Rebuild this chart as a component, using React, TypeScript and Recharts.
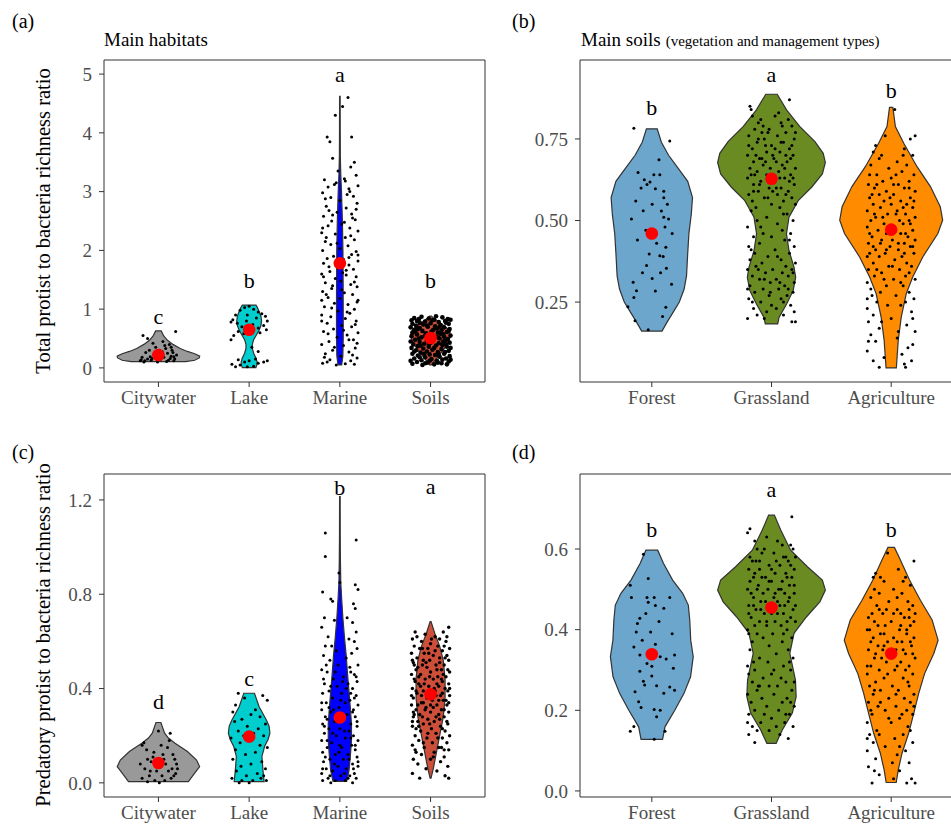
import React from 'react';
import { ScatterChart, Scatter, XAxis, YAxis, ReferenceArea } from 'recharts';

type Pair = [number, number];

const SERIF = "'Liberation Serif', 'DejaVu Serif', serif";

// categories
const habitats = ['Citywater', 'Lake', 'Marine', 'Soils'];
const soilTypes = ['Forest', 'Grassland', 'Agriculture'];

const habitatColors = ['#999999', '#00CDCD', '#0000FF', '#CD4F39'];
const soilColors = ['#6CA6CD', '#698B22', '#FF8C00'];

// violin outlines: [value, half width in category units]
const cityA: Pair[] = [[0.107, 0.3], [0.13, 0.4], [0.17, 0.45], [0.2, 0.455], [0.24, 0.4], [0.28, 0.32], [0.33, 0.24], [0.4, 0.16], [0.47, 0.1], [0.54, 0.06], [0.6, 0.04], [0.63, 0.03]];
const lakeA: Pair[] = [[0.005, 0.075], [0.05, 0.085], [0.1, 0.088], [0.17, 0.075], [0.25, 0.05], [0.33, 0.035], [0.4, 0.035], [0.48, 0.05], [0.56, 0.08], [0.64, 0.11], [0.72, 0.13], [0.8, 0.137], [0.88, 0.13], [0.96, 0.11], [1.03, 0.09], [1.07, 0.075]];
const marineA: Pair[] = [[0.05, 0.02], [0.2, 0.033], [0.5, 0.037], [1.0, 0.037], [1.5, 0.036], [2.0, 0.034], [2.5, 0.028], [3.0, 0.018], [3.3, 0.01], [3.6, 0.005], [4.0, 0.004], [4.62, 0.003]];
const soilsA: Pair[] = [[0.05, 0.01], [0.15, 0.06], [0.3, 0.14], [0.45, 0.2], [0.55, 0.22], [0.65, 0.2], [0.75, 0.12], [0.85, 0.03], [0.88, 0.01]];

const forestB: Pair[] = [[0.161, 0.085], [0.19, 0.13], [0.22, 0.18], [0.25, 0.23], [0.29, 0.27], [0.33, 0.29], [0.4, 0.3], [0.46, 0.31], [0.52, 0.33], [0.57, 0.34], [0.62, 0.3], [0.665, 0.21], [0.7, 0.14], [0.74, 0.08], [0.781, 0.045]];
const grassB: Pair[] = [[0.183, 0.052], [0.203, 0.063], [0.244, 0.126], [0.285, 0.181], [0.326, 0.202], [0.357, 0.188], [0.408, 0.146], [0.459, 0.125], [0.51, 0.146], [0.561, 0.223], [0.602, 0.335], [0.643, 0.425], [0.678, 0.45], [0.706, 0.432], [0.742, 0.363], [0.788, 0.237], [0.839, 0.126], [0.887, 0.048]];
const agriB: Pair[] = [[0.048, 0.043], [0.133, 0.059], [0.204, 0.084], [0.276, 0.126], [0.327, 0.18], [0.389, 0.265], [0.46, 0.39], [0.501, 0.43], [0.542, 0.41], [0.604, 0.328], [0.665, 0.216], [0.737, 0.105], [0.788, 0.035], [0.847, 0.014]];

const cityC: Pair[] = [[0.0055, 0.33], [0.034, 0.385], [0.069, 0.454], [0.097, 0.42], [0.133, 0.32], [0.168, 0.183], [0.19, 0.11], [0.211, 0.068], [0.256, 0.027]];
const lakeC: Pair[] = [[0.0055, 0.165], [0.055, 0.152], [0.112, 0.141], [0.154, 0.17], [0.185, 0.21], [0.211, 0.229], [0.24, 0.22], [0.267, 0.19], [0.323, 0.11], [0.38, 0.059]];
const marineC: Pair[] = [[0.006, 0.075], [0.05, 0.1], [0.11, 0.115], [0.18, 0.128], [0.25, 0.128], [0.32, 0.115], [0.39, 0.1], [0.46, 0.085], [0.54, 0.07], [0.62, 0.05], [0.7, 0.033], [0.78, 0.02], [0.85, 0.01], [0.95, 0.006], [1.05, 0.004], [1.214, 0.003]];
const soilsC: Pair[] = [[0.02, 0.005], [0.06, 0.03], [0.12, 0.06], [0.2, 0.1], [0.28, 0.14], [0.36, 0.16], [0.44, 0.16], [0.52, 0.14], [0.58, 0.1], [0.63, 0.05], [0.66, 0.025], [0.684, 0.005]];

const forestD: Pair[] = [[0.128, 0.09], [0.159, 0.11], [0.2, 0.192], [0.242, 0.269], [0.283, 0.324], [0.333, 0.346], [0.374, 0.325], [0.424, 0.317], [0.461, 0.305], [0.49, 0.258], [0.523, 0.174], [0.564, 0.098], [0.597, 0.049]];
const grassD: Pair[] = [[0.118, 0.039], [0.151, 0.09], [0.193, 0.174], [0.234, 0.206], [0.275, 0.2], [0.341, 0.153], [0.391, 0.188], [0.432, 0.293], [0.469, 0.404], [0.498, 0.45], [0.523, 0.425], [0.556, 0.3], [0.597, 0.16], [0.647, 0.077], [0.684, 0.024]];
const agriD: Pair[] = [[0.021, 0.042], [0.052, 0.059], [0.093, 0.09], [0.143, 0.146], [0.192, 0.188], [0.242, 0.23], [0.291, 0.279], [0.341, 0.356], [0.374, 0.392], [0.424, 0.342], [0.473, 0.244], [0.523, 0.153], [0.573, 0.077], [0.604, 0.027]];

// jittered samples: [x offset from category, value]
const cityAPts: Pair[] = [[-0.15, 0.12], [-0.12, 0.15], [-0.18, 0.18], [-0.08, 0.13], [-0.05, 0.22], [0.02, 0.14], [0.06, 0.18], [0.1, 0.25], [0.14, 0.2], [0.17, 0.12], [-0.1, 0.3], [-0.03, 0.35], [0.08, 0.33], [0.12, 0.4], [0.18, 0.15], [-0.19, 0.14], [-0.14, 0.26], [0.04, 0.28], [0.15, 0.3], [0.2, 0.22], [-0.06, 0.42], [0.05, 0.45], [-0.12, 0.5], [-0.17, 0.55], [0.19, 0.62], [-0.01, 0.1], [0.09, 0.11], [0.13, 0.16], [-0.09, 0.19], [0.16, 0.26], [0.03, 0.2], [-0.16, 0.1], [0.11, 0.13], [-0.02, 0.27], [0.07, 0.38], [0.14, 0.35], [-0.2, 0.12], [0.01, 0.3], [0.17, 0.19], [-0.07, 0.16]];
const lakeAPts: Pair[] = [[-0.18, 0.82], [-0.2, 0.78], [-0.15, 0.9], [-0.1, 0.98], [-0.05, 1.03], [0.0, 1.05], [0.05, 1.0], [0.1, 0.95], [0.14, 0.92], [0.18, 0.88], [0.2, 0.8], [0.16, 0.72], [0.1, 0.68], [0.04, 0.74], [-0.03, 0.8], [-0.08, 0.7], [-0.12, 0.62], [-0.06, 0.58], [0.02, 0.62], [0.12, 0.6], [0.08, 0.85], [-0.02, 0.9], [-0.13, 0.76], [0.19, 0.65], [-0.17, 0.55], [-0.2, 0.48], [0.1, 0.28], [0.03, 0.35], [-0.19, 0.06], [-0.15, 0.02], [-0.1, 0.05], [-0.05, 0.1], [0.0, 0.12], [0.05, 0.03], [0.1, 0.08], [0.16, 0.1], [0.2, 0.12], [-0.02, 0.02], [0.07, 0.15], [-0.12, 0.14]];
const marineAPts: Pair[] = [[0.09, 4.6], [0.03, 4.45], [-0.05, 4.3], [0.13, 3.93], [-0.14, 3.93], [-0.11, 3.85], [-0.08, 3.57], [0.16, 3.5], [0.12, 3.42], [-0.02, 3.35], [0.18, 3.28], [-0.17, 3.2], [0.05, 3.22], [-0.06, 3.12], [0.2, 3.1], [0.1, 3.05], [-0.19, 2.98], [0.15, 2.92], [-0.1, 2.9], [0.0, 2.85], [0.19, 2.8], [-0.15, 2.75], [0.07, 2.72], [-0.03, 2.65], [0.13, 2.62], [-0.18, 2.58], [0.17, 2.52], [-0.09, 2.5], [0.02, 2.45], [-0.13, 2.42], [0.11, 2.38], [0.2, 2.33], [-0.2, 2.3], [-0.05, 2.28], [0.06, 2.22], [0.16, 2.18], [-0.16, 2.15], [-0.1, 2.1], [0.09, 2.08], [0.0, 2.03], [-0.19, 2.0], [0.18, 1.98], [0.13, 1.93], [-0.07, 1.9], [-0.14, 1.86], [0.04, 1.85], [0.2, 1.82], [-0.18, 1.78], [0.1, 1.75], [-0.02, 1.7], [0.15, 1.68], [-0.11, 1.64], [-0.2, 1.6], [0.07, 1.58], [0.18, 1.55], [-0.05, 1.52], [0.01, 1.48], [-0.16, 1.45], [0.12, 1.42], [0.19, 1.38], [-0.09, 1.35], [-0.19, 1.3], [0.05, 1.28], [0.14, 1.25], [-0.13, 1.2], [0.0, 1.18], [0.2, 1.15], [-0.06, 1.1], [0.09, 1.08], [-0.17, 1.04], [0.16, 1.0], [-0.02, 0.97], [0.11, 0.93], [-0.2, 0.9], [-0.1, 0.87], [0.06, 0.84], [0.18, 0.8], [-0.14, 0.76], [0.02, 0.72], [0.13, 0.7], [-0.07, 0.66], [-0.18, 0.62], [0.2, 0.6], [0.08, 0.56], [-0.03, 0.52], [0.15, 0.48], [-0.12, 0.45], [-0.2, 0.4], [0.04, 0.38], [0.17, 0.34], [-0.08, 0.3], [0.1, 0.27], [-0.16, 0.24], [0.01, 0.2], [0.19, 0.17], [-0.11, 0.14], [0.12, 0.12], [-0.19, 0.08], [0.06, 0.07], [-0.04, 0.05], [0.16, 0.06], [-0.14, 0.1], [0.14, 2.55], [-0.12, 2.68], [0.08, 2.95], [-0.04, 3.15], [0.03, 1.62], [-0.08, 1.4], [0.1, 1.88], [-0.15, 2.22],
  [-0.17, 0.18], [0.14, 0.22], [-0.06, 0.35], [0.19, 0.42], [-0.13, 0.58], [0.04, 0.64], [0.17, 0.74], [-0.2, 0.8], [0.08, 0.95], [-0.09, 1.02], [0.19, 1.12], [-0.15, 1.25], [0.02, 1.33], [0.16, 1.46], [-0.18, 1.55], [0.07, 1.66], [-0.12, 1.72], [0.2, 1.92], [-0.03, 2.12], [0.12, 2.25], [-0.19, 2.38], [0.05, 2.48], [-0.08, 2.6], [0.18, 2.7], [-0.16, 2.88], [0.11, 3.0], [-0.13, 3.08], [0.06, 3.18], [-0.2, 1.15], [0.1, 0.48]];
const soilsAPts: Pair[] = [[-0.18, 0.85], [-0.1, 0.87], [-0.02, 0.84], [0.06, 0.88], [0.13, 0.86], [0.19, 0.83], [-0.21, 0.81], [-0.15, 0.8], [-0.06, 0.79], [0.02, 0.81], [0.09, 0.78], [0.16, 0.8], [0.22, 0.82], [-0.12, 0.77], [-0.2, 0.75], [-0.08, 0.74], [0.0, 0.76], [0.11, 0.73], [0.2, 0.75], [-0.16, 0.72], [0.05, 0.71], [-0.22, 0.69], [-0.12, 0.68], [-0.03, 0.7], [0.07, 0.67], [0.15, 0.69], [0.21, 0.66], [-0.18, 0.65], [-0.09, 0.63], [0.01, 0.62], [0.12, 0.64], [0.18, 0.61], [-0.2, 0.6], [-0.05, 0.59], [0.08, 0.6], [-0.15, 0.57], [-0.01, 0.56], [0.14, 0.57], [0.22, 0.55], [-0.21, 0.54], [0.05, 0.53], [-0.1, 0.52], [0.1, 0.5], [0.19, 0.49], [-0.17, 0.48], [-0.04, 0.47], [0.03, 0.49], [0.16, 0.46], [-0.22, 0.45], [-0.12, 0.44], [0.0, 0.43], [0.09, 0.42], [0.21, 0.43], [-0.07, 0.41], [-0.19, 0.4], [0.13, 0.39], [-0.14, 0.37], [-0.02, 0.36], [0.06, 0.38], [0.18, 0.36], [0.22, 0.34], [-0.21, 0.34], [-0.08, 0.33], [0.02, 0.31], [0.12, 0.32], [-0.16, 0.3], [0.2, 0.29], [-0.04, 0.28], [0.08, 0.27], [-0.11, 0.26], [-0.2, 0.24], [0.15, 0.24], [-0.01, 0.23], [0.05, 0.22], [-0.14, 0.21], [0.21, 0.2], [0.1, 0.19], [-0.06, 0.18], [-0.18, 0.16], [0.01, 0.15], [0.17, 0.16], [-0.1, 0.13], [0.07, 0.12], [0.2, 0.11], [-0.15, 0.1], [-0.03, 0.09], [0.12, 0.08], [-0.2, 0.07], [0.04, 0.06], [0.18, 0.06], [-0.09, 0.05], [-0.13, 0.83], [0.04, 0.82], [0.17, 0.77], [-0.04, 0.72], [0.1, 0.7], [-0.14, 0.66], [0.03, 0.65], [0.2, 0.63], [-0.17, 0.62], [0.11, 0.58], [-0.06, 0.55], [0.08, 0.52], [-0.13, 0.5], [0.14, 0.45], [-0.02, 0.4], [0.17, 0.4], [-0.11, 0.38], [0.04, 0.34], [-0.18, 0.28], [0.16, 0.27], [-0.07, 0.24], [0.09, 0.23], [-0.12, 0.18], [0.13, 0.14], [-0.01, 0.12], [0.22, 0.14], [-0.22, 0.12], [0.08, 0.09], [-0.06, 0.08], [0.15, 0.53]];

const forestBPts: Pair[] = [[-0.15, 0.783], [0.15, 0.744], [0.06, 0.686], [-0.115, 0.647], [0.017, 0.64], [0.067, 0.64], [-0.063, 0.625], [-0.015, 0.618], [-0.04, 0.61], [0.03, 0.597], [0.1, 0.59], [-0.134, 0.56], [0.1, 0.57], [0.003, 0.55], [-0.072, 0.53], [0.08, 0.529], [-0.17, 0.505], [0.1, 0.51], [0.14, 0.505], [-0.12, 0.44], [0.11, 0.48], [0.17, 0.46], [0.117, 0.418], [-0.022, 0.397], [0.067, 0.392], [0.095, 0.39], [-0.044, 0.362], [0.122, 0.354], [-0.156, 0.311], [-0.128, 0.285], [-0.078, 0.34], [0.003, 0.322], [0.073, 0.34], [0.165, 0.305], [0.03, 0.284], [-0.15, 0.264], [-0.2, 0.236], [-0.14, 0.193], [0.09, 0.206], [0.117, 0.234], [-0.03, 0.165], [-0.05, 0.47], [0.04, 0.43], [0.13, 0.55], [-0.09, 0.6]];
const grassBPts: Pair[] = [[-0.18, 0.85], [-0.17, 0.84], [0.15, 0.87], [0.03, 0.82], [-0.09, 0.81], [0.08, 0.8], [0.17, 0.79], [-0.14, 0.78], [-0.02, 0.78], [0.12, 0.77], [-0.19, 0.76], [0.05, 0.76], [-0.06, 0.75], [0.19, 0.75], [-0.12, 0.74], [0.1, 0.74], [0.0, 0.73], [-0.16, 0.72], [0.15, 0.72], [-0.04, 0.71], [0.07, 0.71], [-0.2, 0.7], [0.18, 0.7], [-0.1, 0.69], [0.02, 0.69], [0.13, 0.68], [-0.15, 0.68], [-0.07, 0.67], [0.09, 0.67], [0.2, 0.66], [-0.18, 0.66], [-0.01, 0.66], [0.06, 0.65], [-0.12, 0.65], [0.16, 0.64], [-0.04, 0.64], [0.11, 0.63], [-0.2, 0.63], [0.03, 0.62], [-0.09, 0.62], [0.19, 0.61], [-0.15, 0.61], [0.08, 0.6], [-0.02, 0.6], [0.14, 0.59], [-0.11, 0.59], [-0.19, 0.58], [0.05, 0.58], [0.17, 0.57], [-0.06, 0.57], [0.1, 0.56], [-0.16, 0.56], [0.0, 0.55], [0.2, 0.55], [-0.13, 0.54], [0.07, 0.54], [-0.08, 0.69], [0.12, 0.7], [-0.05, 0.73], [0.04, 0.68], [-0.14, 0.64], [0.15, 0.62], [-0.03, 0.77], [0.09, 0.79], [-0.11, 0.8], [0.01, 0.59], [-0.17, 0.53], [0.13, 0.52], [-0.04, 0.51], [0.18, 0.5], [-0.12, 0.5], [0.05, 0.49], [-0.2, 0.48], [0.09, 0.47], [-0.07, 0.46], [0.16, 0.46], [0.0, 0.45], [-0.15, 0.45], [0.11, 0.44], [-0.1, 0.43], [0.19, 0.42], [-0.19, 0.42], [0.03, 0.41], [-0.14, 0.4], [0.15, 0.4], [-0.03, 0.39], [0.08, 0.38], [-0.18, 0.38], [0.2, 0.37], [-0.08, 0.37], [0.12, 0.36], [-0.13, 0.36], [0.01, 0.35], [0.17, 0.35], [-0.2, 0.35], [-0.05, 0.34], [0.09, 0.34], [-0.16, 0.33], [0.14, 0.33], [0.04, 0.32], [-0.1, 0.32], [0.19, 0.31], [-0.01, 0.31], [-0.18, 0.3], [0.11, 0.3], [-0.07, 0.29], [0.06, 0.29], [0.18, 0.28], [-0.14, 0.28], [-0.02, 0.27], [0.13, 0.27], [-0.19, 0.26], [0.08, 0.26], [-0.09, 0.25], [0.16, 0.24], [0.0, 0.24], [-0.15, 0.23], [0.19, 0.22], [-0.04, 0.22], [0.1, 0.21], [-0.2, 0.2], [0.17, 0.19], [0.2, 0.19], [-0.06, 0.2],
  [-0.16, 0.82], [0.06, 0.83], [0.14, 0.81], [-0.08, 0.77], [0.2, 0.77], [-0.19, 0.73], [0.03, 0.72], [0.16, 0.69], [-0.13, 0.7], [0.01, 0.7], [-0.05, 0.68], [0.11, 0.66], [-0.17, 0.64], [0.07, 0.63], [-0.1, 0.61], [0.18, 0.63], [0.04, 0.6], [-0.15, 0.59], [0.12, 0.58], [-0.03, 0.57], [0.08, 0.74], [-0.11, 0.75], [0.17, 0.73], [-0.07, 0.79], [0.1, 0.52], [-0.09, 0.48], [0.15, 0.44], [-0.17, 0.41], [0.05, 0.39], [-0.11, 0.35], [0.18, 0.34], [-0.06, 0.32], [0.07, 0.31], [-0.2, 0.29], [0.14, 0.29], [-0.01, 0.28], [0.1, 0.25], [-0.16, 0.25], [0.04, 0.23], [-0.12, 0.21]];
const agriBPts: Pair[] = [[0.03, 0.84], [-0.13, 0.73], [0.2, 0.76], [0.16, 0.75], [-0.05, 0.76], [0.11, 0.72], [-0.15, 0.71], [0.18, 0.7], [-0.1, 0.69], [0.05, 0.68], [-0.17, 0.67], [0.13, 0.67], [-0.02, 0.66], [0.09, 0.65], [-0.12, 0.64], [0.19, 0.64], [0.0, 0.63], [-0.07, 0.62], [0.15, 0.62], [-0.19, 0.61], [0.06, 0.61], [-0.14, 0.6], [0.11, 0.6], [-0.04, 0.59], [0.2, 0.59], [0.02, 0.58], [-0.1, 0.58], [0.16, 0.57], [-0.18, 0.57], [0.08, 0.56], [-0.06, 0.56], [0.13, 0.55], [-0.15, 0.55], [0.0, 0.55], [0.18, 0.54], [-0.09, 0.54], [0.05, 0.53], [-0.2, 0.53], [0.12, 0.52], [-0.03, 0.52], [0.2, 0.51], [-0.13, 0.51], [0.07, 0.5], [-0.17, 0.5], [0.15, 0.5], [-0.06, 0.49], [0.1, 0.49], [-0.2, 0.48], [0.02, 0.48], [0.18, 0.47], [-0.11, 0.47], [0.08, 0.46], [-0.04, 0.46], [0.14, 0.45], [-0.16, 0.45], [0.01, 0.44], [0.2, 0.44], [-0.08, 0.44], [0.11, 0.43], [-0.19, 0.43], [-0.01, 0.42], [0.16, 0.42], [-0.13, 0.41], [0.06, 0.41], [-0.05, 0.4], [0.19, 0.4], [-0.18, 0.4], [0.09, 0.39], [-0.1, 0.39], [0.03, 0.38], [0.13, 0.37], [-0.15, 0.37], [-0.02, 0.36], [0.17, 0.36], [-0.19, 0.35], [0.07, 0.35], [-0.08, 0.34], [0.12, 0.33], [-0.14, 0.33], [0.02, 0.32], [0.2, 0.32], [-0.2, 0.31], [-0.04, 0.3], [0.1, 0.3], [-0.17, 0.29], [0.15, 0.28], [-0.09, 0.28], [0.04, 0.27], [-0.2, 0.26], [0.19, 0.26], [-0.12, 0.25], [0.08, 0.24], [-0.2, 0.23], [0.17, 0.22], [-0.15, 0.21], [0.0, 0.2], [-0.19, 0.19], [0.13, 0.18], [-0.1, 0.17], [0.2, 0.16], [-0.17, 0.15], [0.05, 0.14], [-0.13, 0.13], [0.18, 0.12], [-0.2, 0.1], [0.09, 0.09], [-0.15, 0.07], [0.17, 0.07], [-0.1, 0.05], [0.12, 0.05],
  [-0.08, 0.7], [0.1, 0.7], [-0.18, 0.64], [0.04, 0.64], [0.15, 0.6], [-0.12, 0.61], [0.02, 0.61], [-0.16, 0.58], [0.19, 0.56], [-0.01, 0.57], [0.1, 0.54], [-0.14, 0.52], [0.04, 0.52], [-0.07, 0.51], [0.16, 0.49], [-0.18, 0.46], [0.0, 0.46], [0.12, 0.46], [-0.09, 0.43], [0.06, 0.43], [0.18, 0.42], [-0.15, 0.42], [-0.04, 0.41], [0.11, 0.4], [-0.2, 0.39], [0.01, 0.36], [-0.12, 0.35], [0.15, 0.34], [-0.06, 0.32], [0.08, 0.31], [-0.16, 0.27], [0.12, 0.25], [-0.03, 0.24], [0.18, 0.2], [-0.08, 0.19], [0.06, 0.16], [-0.19, 0.13], [0.14, 0.11], [-0.06, 0.08], [0.11, 0.06]];

const cityCPts: Pair[] = [[-0.16, 0.17], [-0.18, 0.16], [0.13, 0.21], [0.0, 0.22], [0.1, 0.15], [-0.05, 0.13], [0.05, 0.12], [-0.12, 0.1], [0.18, 0.1], [0.2, 0.08], [-0.2, 0.08], [-0.08, 0.09], [0.08, 0.08], [0.15, 0.06], [-0.15, 0.06], [-0.02, 0.05], [0.11, 0.05], [0.19, 0.04], [-0.1, 0.03], [0.04, 0.03], [-0.18, 0.02], [0.14, 0.02], [-0.04, 0.01], [0.07, 0.01], [-0.12, 0.005], [0.01, 0.0], [-0.06, 0.11], [0.16, 0.12], [-0.13, 0.14], [0.03, 0.16], [0.12, 0.18], [-0.09, 0.05], [0.21, 0.06], [0.06, 0.1], [-0.01, 0.07], [0.17, 0.03]];
const lakeCPts: Pair[] = [[-0.12, 0.38], [0.15, 0.37], [-0.05, 0.36], [0.2, 0.35], [-0.15, 0.33], [0.07, 0.31], [-0.18, 0.3], [0.02, 0.29], [0.12, 0.28], [-0.08, 0.27], [-0.16, 0.26], [0.18, 0.25], [-0.02, 0.24], [0.1, 0.23], [-0.12, 0.22], [0.05, 0.21], [-0.06, 0.2], [0.16, 0.2], [-0.2, 0.19], [0.0, 0.18], [-0.1, 0.17], [0.12, 0.16], [0.2, 0.15], [-0.15, 0.14], [0.07, 0.13], [-0.04, 0.12], [-0.18, 0.1], [0.14, 0.09], [0.02, 0.08], [-0.09, 0.07], [0.18, 0.06], [-0.14, 0.05], [0.09, 0.04], [-0.03, 0.03], [0.13, 0.02], [-0.19, 0.02], [0.04, 0.01], [-0.08, 0.01], [0.19, 0.01], [0.16, 0.03], [-0.11, 0.0], [0.0, 0.0]];
const marineCPts: Pair[] = [[-0.16, 1.06], [0.18, 1.03], [-0.16, 0.96], [-0.01, 0.89], [0.0, 0.85], [0.17, 0.84], [0.2, 0.82], [-0.19, 0.81], [-0.1, 0.78], [-0.08, 0.77], [0.15, 0.76], [0.17, 0.74], [-0.17, 0.7], [-0.06, 0.69], [0.14, 0.68], [-0.2, 0.66], [0.18, 0.64], [-0.13, 0.62], [0.1, 0.61], [0.16, 0.6], [-0.16, 0.58], [0.19, 0.57], [-0.04, 0.56], [0.13, 0.55], [-0.18, 0.54], [0.07, 0.53], [-0.11, 0.52], [0.2, 0.5], [-0.02, 0.5], [0.11, 0.49], [-0.2, 0.48], [-0.14, 0.47], [0.16, 0.46], [0.04, 0.45], [-0.07, 0.44], [0.19, 0.43], [-0.17, 0.42], [0.09, 0.42], [-0.03, 0.41], [0.14, 0.4], [-0.12, 0.39], [-0.19, 0.38], [0.02, 0.38], [0.18, 0.37], [-0.08, 0.36], [0.11, 0.35], [-0.15, 0.34], [0.06, 0.34], [0.2, 0.33], [-0.01, 0.32], [-0.2, 0.31], [0.15, 0.31], [-0.1, 0.3], [0.08, 0.29], [-0.16, 0.28], [0.17, 0.28], [0.03, 0.27], [-0.06, 0.26], [0.12, 0.25], [-0.19, 0.25], [0.19, 0.24], [-0.12, 0.23], [0.0, 0.23], [0.1, 0.22], [-0.17, 0.21], [0.15, 0.2], [-0.04, 0.2], [0.06, 0.19], [-0.2, 0.18], [0.2, 0.18], [-0.09, 0.17], [0.13, 0.16], [-0.14, 0.15], [0.02, 0.15], [0.17, 0.14], [-0.19, 0.13], [-0.05, 0.12], [0.09, 0.12], [0.19, 0.11], [-0.11, 0.1], [0.04, 0.1], [-0.18, 0.09], [0.14, 0.08], [-0.02, 0.07], [0.2, 0.07], [-0.15, 0.06], [0.07, 0.06], [-0.08, 0.05], [0.16, 0.04], [-0.2, 0.04], [0.01, 0.03], [0.11, 0.03], [-0.13, 0.02], [0.18, 0.02], [-0.05, 0.01], [-0.19, 0.01], [0.06, 0.01], [0.14, 0.0], [-0.1, 0.0], [0.03, 0.43], [-0.09, 0.58], [0.08, 0.7], [-0.14, 0.27], [0.12, 0.38], [0.0, 0.16], [-0.07, 0.31],
  [-0.15, 0.5], [0.12, 0.47], [-0.05, 0.47], [0.18, 0.45], [-0.18, 0.44], [0.07, 0.4], [-0.1, 0.41], [0.16, 0.36], [-0.2, 0.34], [0.01, 0.35], [-0.12, 0.32], [0.14, 0.3], [-0.03, 0.28], [0.19, 0.26], [-0.17, 0.24], [0.05, 0.22], [-0.08, 0.21], [0.12, 0.19], [-0.14, 0.18], [0.17, 0.16], [-0.01, 0.13], [-0.16, 0.11], [0.1, 0.1], [0.2, 0.09], [-0.06, 0.08], [-0.19, 0.06], [0.05, 0.04], [0.15, 0.06], [-0.11, 0.03], [0.09, 0.02]];
const soilsCPts: Pair[] = [[-0.15, 0.62], [-0.06, 0.63], [0.05, 0.62], [0.14, 0.64], [0.2, 0.66], [-0.2, 0.61], [0.1, 0.61], [-0.1, 0.6], [0.0, 0.59], [0.17, 0.6], [-0.18, 0.58], [-0.03, 0.57], [0.08, 0.58], [0.21, 0.57], [-0.12, 0.57], [0.13, 0.56], [-0.21, 0.55], [-0.07, 0.55], [0.03, 0.54], [0.18, 0.54], [-0.15, 0.53], [0.1, 0.53], [-0.01, 0.52], [0.2, 0.52], [-0.19, 0.51], [-0.09, 0.5], [0.06, 0.5], [0.15, 0.5], [-0.04, 0.49], [0.12, 0.48], [-0.16, 0.48], [0.21, 0.47], [0.0, 0.47], [-0.21, 0.46], [-0.11, 0.46], [0.08, 0.45], [0.17, 0.45], [-0.06, 0.44], [0.03, 0.44], [-0.17, 0.43], [0.13, 0.43], [0.2, 0.42], [-0.13, 0.42], [-0.02, 0.41], [0.09, 0.41], [-0.2, 0.4], [0.16, 0.4], [-0.08, 0.39], [0.05, 0.39], [-0.15, 0.38], [0.11, 0.37], [0.21, 0.37], [-0.04, 0.36], [-0.19, 0.36], [0.02, 0.35], [0.14, 0.35], [-0.1, 0.34], [0.18, 0.33], [-0.21, 0.33], [0.07, 0.33], [-0.05, 0.32], [0.12, 0.31], [-0.16, 0.31], [0.0, 0.3], [0.2, 0.3], [-0.12, 0.29], [0.09, 0.29], [-0.19, 0.28], [0.15, 0.28], [-0.03, 0.27], [0.04, 0.26], [-0.14, 0.26], [0.19, 0.25], [-0.08, 0.25], [0.11, 0.24], [-0.2, 0.24], [0.01, 0.23], [0.16, 0.22], [-0.11, 0.22], [0.06, 0.21], [-0.17, 0.2], [0.21, 0.2], [-0.04, 0.19], [0.13, 0.19], [-0.13, 0.18], [0.02, 0.17], [0.18, 0.17], [-0.2, 0.16], [-0.07, 0.15], [0.09, 0.15], [0.2, 0.14], [-0.16, 0.13], [0.04, 0.13], [-0.1, 0.12], [0.15, 0.11], [-0.19, 0.1], [0.0, 0.1], [0.11, 0.09], [-0.14, 0.08], [0.19, 0.07], [-0.05, 0.06], [0.07, 0.05], [-0.2, 0.04], [0.16, 0.03], [-0.12, 0.02], [0.2, 0.02], [-0.18, 0.5], [0.07, 0.48], [-0.13, 0.45], [0.04, 0.4], [-0.1, 0.37], [0.17, 0.35], [-0.06, 0.31], [0.1, 0.27], [-0.16, 0.23], [0.14, 0.46], [-0.02, 0.55], [0.15, 0.58], [-0.08, 0.52], [0.03, 0.32], [-0.19, 0.3], [0.19, 0.39], [-0.11, 0.41], [0.06, 0.37], [-0.03, 0.21], [0.12, 0.15],
  [-0.17, 0.64], [0.01, 0.61], [0.18, 0.62], [-0.09, 0.57], [0.05, 0.56], [-0.2, 0.52], [0.16, 0.53], [-0.05, 0.51], [0.1, 0.51], [-0.14, 0.49], [0.19, 0.48], [-0.01, 0.45], [-0.18, 0.44], [0.12, 0.44], [-0.07, 0.42], [0.07, 0.42], [0.21, 0.4], [-0.16, 0.39], [-0.02, 0.38], [0.13, 0.38], [-0.21, 0.37], [0.09, 0.35], [-0.08, 0.34], [0.2, 0.34], [-0.14, 0.33], [0.0, 0.33], [0.15, 0.31], [-0.18, 0.29], [0.06, 0.28], [-0.09, 0.28], [0.18, 0.26], [-0.2, 0.26], [-0.01, 0.25], [0.13, 0.23], [-0.13, 0.24], [0.08, 0.19], [-0.08, 0.17], [0.15, 0.14], [-0.17, 0.14], [0.03, 0.11]];

const forestDPts: Pair[] = [[-0.07, 0.587], [-0.03, 0.527], [-0.18, 0.51], [-0.17, 0.48], [-0.04, 0.48], [0.02, 0.48], [0.15, 0.48], [-0.03, 0.468], [0.03, 0.46], [0.1, 0.453], [-0.05, 0.44], [-0.1, 0.428], [-0.12, 0.415], [0.06, 0.42], [0.17, 0.39], [-0.01, 0.394], [-0.13, 0.394], [-0.08, 0.374], [0.03, 0.364], [-0.15, 0.357], [-0.1, 0.337], [0.07, 0.333], [0.19, 0.337], [0.12, 0.327], [-0.04, 0.316], [0.0, 0.309], [0.18, 0.304], [0.0, 0.285], [-0.1, 0.297], [-0.07, 0.272], [0.04, 0.261], [-0.06, 0.263], [-0.14, 0.246], [0.15, 0.258], [0.1, 0.242], [0.19, 0.25], [-0.11, 0.221], [-0.09, 0.207], [0.02, 0.202], [0.07, 0.2], [0.04, 0.184], [-0.18, 0.148], [-0.15, 0.16], [0.11, 0.148], [0.02, 0.128]];
const grassDPts: Pair[] = [[0.17, 0.68], [-0.18, 0.65], [-0.2, 0.64], [-0.04, 0.63], [0.05, 0.62], [0.16, 0.61], [-0.12, 0.6], [0.18, 0.6], [0.02, 0.59], [-0.08, 0.59], [0.1, 0.58], [-0.16, 0.57], [0.14, 0.57], [-0.02, 0.56], [0.07, 0.56], [-0.19, 0.55], [0.19, 0.55], [-0.1, 0.55], [0.03, 0.54], [-0.14, 0.54], [0.12, 0.54], [-0.05, 0.53], [0.17, 0.53], [0.0, 0.52], [-0.18, 0.52], [0.09, 0.52], [-0.11, 0.51], [0.15, 0.51], [-0.03, 0.5], [0.06, 0.5], [-0.2, 0.5], [0.19, 0.49], [-0.07, 0.49], [0.11, 0.49], [-0.15, 0.48], [0.02, 0.48], [0.14, 0.47], [-0.09, 0.47], [-0.19, 0.46], [0.07, 0.46], [0.18, 0.45], [-0.01, 0.45], [-0.13, 0.45], [0.1, 0.44], [-0.06, 0.44], [0.16, 0.43], [-0.17, 0.43], [0.03, 0.42], [-0.1, 0.42], [0.2, 0.42], [0.08, 0.41], [-0.04, 0.41], [-0.2, 0.4], [0.13, 0.4], [-0.12, 0.39], [0.01, 0.39], [0.17, 0.38], [-0.07, 0.38], [0.09, 0.37], [-0.16, 0.37], [-0.02, 0.36], [0.12, 0.58], [-0.13, 0.57], [0.05, 0.47], [-0.08, 0.53], [0.0, 0.44], [0.14, 0.35], [-0.18, 0.35], [0.04, 0.34], [-0.1, 0.33], [0.18, 0.33], [-0.03, 0.32], [0.1, 0.31], [-0.2, 0.31], [0.16, 0.3], [-0.14, 0.3], [0.0, 0.29], [-0.19, 0.29], [0.08, 0.28], [-0.07, 0.28], [0.19, 0.27], [-0.16, 0.27], [0.12, 0.27], [-0.02, 0.26], [0.05, 0.26], [-0.12, 0.25], [0.17, 0.25], [-0.2, 0.24], [0.02, 0.24], [0.13, 0.23], [-0.08, 0.23], [-0.17, 0.22], [0.09, 0.22], [-0.04, 0.21], [0.19, 0.21], [0.06, 0.2], [-0.14, 0.2], [0.15, 0.19], [-0.19, 0.19], [0.0, 0.18], [-0.09, 0.17], [0.11, 0.17], [0.18, 0.16], [-0.16, 0.16], [-0.02, 0.15], [0.07, 0.14], [-0.19, 0.14], [-0.14, 0.12], [0.14, 0.13], [-0.11, 0.26],
  [-0.14, 0.62], [0.09, 0.61], [-0.06, 0.6], [0.2, 0.58], [-0.18, 0.58], [0.04, 0.57], [-0.1, 0.57], [0.16, 0.56], [0.0, 0.55], [-0.15, 0.53], [0.13, 0.53], [-0.02, 0.52], [0.19, 0.51], [-0.12, 0.5], [0.08, 0.5], [-0.17, 0.49], [0.03, 0.49], [0.15, 0.48], [-0.05, 0.47], [0.11, 0.46], [-0.15, 0.46], [0.2, 0.46], [-0.09, 0.45], [0.05, 0.44], [-0.19, 0.44], [0.13, 0.42], [-0.04, 0.42], [-0.14, 0.41], [0.1, 0.39], [-0.19, 0.39], [0.15, 0.32], [-0.15, 0.32], [0.02, 0.3], [-0.1, 0.26], [0.16, 0.22], [-0.06, 0.19], [0.12, 0.19], [-0.2, 0.17], [0.04, 0.16], [-0.12, 0.15]];
const agriDPts: Pair[] = [[0.19, 0.57], [-0.03, 0.59], [0.06, 0.55], [-0.13, 0.54], [-0.15, 0.53], [0.12, 0.53], [0.16, 0.51], [-0.06, 0.52], [0.02, 0.5], [-0.1, 0.49], [0.09, 0.49], [-0.17, 0.48], [0.14, 0.47], [-0.02, 0.47], [0.18, 0.46], [-0.12, 0.46], [0.05, 0.45], [-0.07, 0.44], [0.2, 0.44], [-0.19, 0.43], [0.11, 0.43], [0.0, 0.42], [-0.14, 0.42], [0.16, 0.41], [-0.05, 0.41], [0.07, 0.4], [-0.18, 0.4], [-0.09, 0.39], [0.13, 0.39], [0.02, 0.38], [0.19, 0.38], [-0.15, 0.38], [-0.03, 0.37], [0.09, 0.37], [-0.11, 0.36], [0.17, 0.36], [0.04, 0.35], [-0.19, 0.35], [-0.07, 0.35], [0.12, 0.34], [-0.14, 0.33], [0.0, 0.33], [0.2, 0.33], [-0.04, 0.32], [0.08, 0.32], [-0.17, 0.31], [0.15, 0.31], [-0.1, 0.3], [0.03, 0.3], [-0.2, 0.29], [0.18, 0.29], [-0.06, 0.28], [0.1, 0.28], [-0.13, 0.27], [0.14, 0.27], [0.01, 0.26], [-0.18, 0.26], [0.06, 0.25], [-0.09, 0.25], [0.19, 0.24], [-0.15, 0.24], [-0.02, 0.23], [0.11, 0.23], [0.16, 0.22], [-0.19, 0.22], [0.04, 0.21], [-0.11, 0.21], [0.13, 0.2], [-0.05, 0.2], [-0.16, 0.19], [0.18, 0.19], [0.07, 0.18], [-0.2, 0.17], [0.0, 0.17], [0.14, 0.16], [-0.12, 0.15], [-0.18, 0.14], [0.1, 0.14], [0.03, 0.13], [0.18, 0.12], [-0.15, 0.12], [-0.05, 0.11], [0.12, 0.1], [-0.2, 0.1], [0.05, 0.09], [-0.13, 0.08], [0.15, 0.07], [-0.19, 0.06], [0.01, 0.07], [0.07, 0.05], [-0.1, 0.04], [0.17, 0.03], [-0.16, 0.02], [0.02, 0.03], [0.2, 0.02], [-0.06, 0.36], [0.08, 0.44], [-0.1, 0.45], [0.15, 0.43],
  [-0.09, 0.53], [0.1, 0.52], [-0.14, 0.5], [0.05, 0.48], [-0.04, 0.45], [0.15, 0.45], [-0.16, 0.44], [0.02, 0.44], [0.19, 0.42], [-0.11, 0.41], [0.08, 0.41], [-0.2, 0.4], [0.13, 0.4], [-0.06, 0.39], [0.05, 0.37], [-0.17, 0.37], [0.16, 0.37], [-0.01, 0.35], [0.1, 0.35], [-0.13, 0.34], [0.18, 0.34], [-0.08, 0.33], [0.05, 0.31], [-0.2, 0.31], [0.12, 0.3], [-0.03, 0.29], [0.15, 0.26], [-0.14, 0.25], [0.04, 0.24], [-0.09, 0.22], [0.19, 0.21], [-0.17, 0.2], [0.09, 0.19], [-0.02, 0.18], [0.16, 0.15], [-0.1, 0.14], [-0.2, 0.13], [0.07, 0.11], [-0.14, 0.05], [0.13, 0.02]];

// group means (red dots)
const meansA = [0.22, 0.65, 1.78, 0.51];
const meansB = [0.46, 0.628, 0.472];
const meansC = [0.084, 0.196, 0.277, 0.376];
const meansD = [0.339, 0.455, 0.341];

// significance letters and their baseline value
const lettersA = ['c', 'b', 'a', 'b'];
const letterYA = [0.75, 1.355, 4.87, 1.355];
const lettersB = ['b', 'a', 'b'];
const letterYB = [0.824, 0.926, 0.875];
const lettersC = ['d', 'c', 'b', 'a'];
const letterYC = [0.313, 0.411, 1.221, 1.226];
const lettersD = ['b', 'a', 'b'];
const letterYD = [0.63, 0.729, 0.63];

// axis ticks
const ticksA = [0, 1, 2, 3, 4, 5];
const ticksB = [0.25, 0.5, 0.75];
const ticksC = [0, 0.4, 0.8, 1.2];
const ticksD = [0, 0.2, 0.4, 0.6];

const outline = (center: number, prof: Pair[]) => [
  ...prof.map(([y, w]) => ({ x: center + w, y })),
  ...prof.slice().reverse().map(([y, w]) => ({ x: center - w, y })),
];

const noShape = () => <g />;

interface PanelProps {
  left: number;
  top: number;
  width: number;
  height: number;
  margin: { top: number; right: number; bottom: number; left: number };
  yWidth: number;
  xHeight: number;
  cats: string[];
  colors: string[];
  violins: Pair[][];
  points: Pair[][];
  dotR: number[];
  means: number[];
  letters: string[];
  letterY: number[];
  xDomain: [number, number];
  yDomain: [number, number];
  yTicks: number[];
  digits: number;
}

const Panel: React.FC<PanelProps> = (p) => {
  const tickStyle = { fill: '#4D4D4D', fontSize: 19, fontFamily: SERIF };
  const meanData = p.means.map((y, i) => ({ x: i + 1, y }));
  const letterData = p.letters.map((label, i) => ({ x: i + 1, y: p.letterY[i], label }));
  return (
    <div style={{ position: 'absolute', left: p.left, top: p.top }}>
      <ScatterChart width={p.width} height={p.height} margin={p.margin}>
        <XAxis
          type="number"
          dataKey="x"
          domain={p.xDomain}
          allowDataOverflow
          ticks={p.cats.map((_, i) => i + 1)}
          tickFormatter={(v: number) => p.cats[Math.round(v) - 1] ?? ''}
          height={p.xHeight}
          axisLine={false}
          tickLine={{ stroke: '#333333' }}
          tickSize={5}
          tickMargin={4}
          tick={tickStyle}
          interval={0}
        />
        <YAxis
          type="number"
          dataKey="y"
          domain={p.yDomain}
          allowDataOverflow
          ticks={p.yTicks}
          tickFormatter={(v: number) => v.toFixed(p.digits)}
          width={p.yWidth}
          axisLine={false}
          tickLine={{ stroke: '#333333' }}
          tickSize={5}
          tickMargin={7}
          tick={tickStyle}
          interval={0}
        />
        <ReferenceArea
          x1={p.xDomain[0]}
          x2={p.xDomain[1]}
          y1={p.yDomain[0]}
          y2={p.yDomain[1]}
          fill="none"
          stroke="#333333"
          strokeWidth={1}
          ifOverflow="visible"
        />
        {p.cats.map((c, i) => (
          <Scatter
            key={`violin-${c}`}
            data={outline(i + 1, p.violins[i])}
            line={{ stroke: '#333333', strokeWidth: 1.2, fill: p.colors[i] }}
            lineType="joint"
            lineJointType="linearClosed"
            shape={noShape}
            isAnimationActive={false}
          />
        ))}
        {p.cats.map((c, i) => (
          <Scatter
            key={`pts-${c}`}
            data={p.points[i].map(([dx, y]) => ({ x: i + 1 + dx, y }))}
            shape={(s: any) => <circle cx={s.cx} cy={s.cy} r={p.dotR[i]} fill="#000000" />}
            isAnimationActive={false}
          />
        ))}
        <Scatter
          data={meanData}
          shape={(s: any) => <circle cx={s.cx} cy={s.cy} r={6.3} fill="#FF0000" />}
          isAnimationActive={false}
        />
        <Scatter
          data={letterData}
          shape={(s: any) => (
            <text x={s.cx} y={s.cy} textAnchor="middle" fontSize={22} fontFamily={SERIF} fill="#000000">
              {s.payload?.label}
            </text>
          )}
          isAnimationActive={false}
        />
      </ScatterChart>
    </div>
  );
};

export default function App() {
  return (
    <div
      style={{
        position: 'fixed',
        left: 0,
        top: 0,
        width: 951,
        height: 824,
        overflow: 'hidden',
        background: '#FFFFFF',
      }}
    >
      <Panel
        left={0}
        top={0}
        width={490}
        height={420}
        margin={{ top: 60, right: 5, bottom: 0, left: 0 }}
        yWidth={104}
        xHeight={38}
        cats={habitats}
        colors={habitatColors}
        violins={[cityA, lakeA, marineA, soilsA]}
        points={[cityAPts, lakeAPts, marineAPts, soilsAPts]}
        dotR={[1.5, 1.5, 1.5, 2.3]}
        means={meansA}
        letters={lettersA}
        letterY={letterYA}
        xDomain={[0.4, 4.6]}
        yDomain={[-0.24, 5.24]}
        yTicks={ticksA}
        digits={0}
      />
      <Panel
        left={490}
        top={0}
        width={475}
        height={420}
        margin={{ top: 60, right: 2, bottom: 0, left: 0 }}
        yWidth={90}
        xHeight={38}
        cats={soilTypes}
        colors={soilColors}
        violins={[forestB, grassB, agriB]}
        points={[forestBPts, grassBPts, agriBPts]}
        dotR={[1.5, 1.5, 1.5]}
        means={meansB}
        letters={lettersB}
        letterY={letterYB}
        xDomain={[0.4, 3.6]}
        yDomain={[0.005, 0.992]}
        yTicks={ticksB}
        digits={2}
      />
      <Panel
        left={0}
        top={420}
        width={490}
        height={410}
        margin={{ top: 54, right: 5, bottom: 0, left: 0 }}
        yWidth={104}
        xHeight={33}
        cats={habitats}
        colors={habitatColors}
        violins={[cityC, lakeC, marineC, soilsC]}
        points={[cityCPts, lakeCPts, marineCPts, soilsCPts]}
        dotR={[1.5, 1.5, 1.5, 1.7]}
        means={meansC}
        letters={lettersC}
        letterY={letterYC}
        xDomain={[0.4, 4.6]}
        yDomain={[-0.06, 1.31]}
        yTicks={ticksC}
        digits={1}
      />
      <Panel
        left={490}
        top={420}
        width={475}
        height={410}
        margin={{ top: 54, right: 2, bottom: 0, left: 0 }}
        yWidth={90}
        xHeight={33}
        cats={soilTypes}
        colors={soilColors}
        violins={[forestD, grassD, agriD]}
        points={[forestDPts, grassDPts, agriDPts]}
        dotR={[1.5, 1.5, 1.5]}
        means={meansD}
        letters={lettersD}
        letterY={letterYD}
        xDomain={[0.4, 3.6]}
        yDomain={[-0.015, 0.786]}
        yTicks={ticksD}
        digits={1}
      />
      <svg
        width={951}
        height={824}
        style={{ position: 'absolute', left: 0, top: 0, pointerEvents: 'none' }}
        fontFamily={SERIF}
      >
        <text x={12} y={28} fontSize={20}>(a)</text>
        <text x={512} y={28} fontSize={20}>(b)</text>
        <text x={12} y={459} fontSize={20}>(c)</text>
        <text x={512} y={459} fontSize={20}>(d)</text>
        <text x={104} y={45.5} fontSize={19}>Main habitats</text>
        <text x={581} y={45.5} fontSize={19}>
          Main soils
          <tspan fontSize={15} dx={5}>(vegetation and management types)</tspan>
        </text>
        <text x={49.5} y={221} fontSize={20.5} textAnchor="middle" transform="rotate(-90 49.5 221)">
          Total protist to bacteria richness ratio
        </text>
        <text x={49.5} y={635} fontSize={20.5} textAnchor="middle" transform="rotate(-90 49.5 635)">
          Predatory protist to bacteria richness ratio
        </text>
      </svg>
    </div>
  );
}
